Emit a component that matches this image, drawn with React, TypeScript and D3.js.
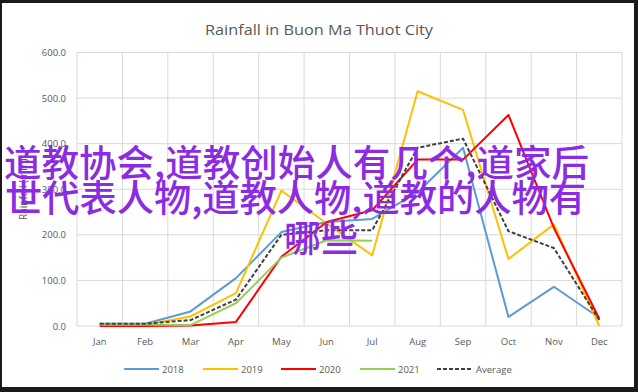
import React, { useLayoutEffect } from "react";
import * as d3 from "d3";

const months = ["Jan", "Feb", "Mar", "Apr", "May", "Jun", "Jul", "Aug", "Sep", "Oct", "Nov", "Dec"];
const rain2018 = [5, 5, 32, 105, 206, 228, 235, 293, 391, 20, 86, 18];
const rain2019 = [3, 3, 21, 72, 297, 225, 155, 515, 474, 147, 223, 0];
const rain2020 = [0, 0, 1, 9, 152, 228, 254, 365, 365, 463, 215, 16];
const rain2021 = [3, 3, 2, 50, 150, 188, 187];
const rainAvg = [5, 5, 13, 58, 200, 210, 210, 391, 411, 208, 171, 13];
const yTicks = [0, 100, 200, 300, 400, 500, 600];

const seriesNames = ["2018", "2019", "2020", "2021", "Average"];
const overlayLines = ["道教协会,道教创始人有几个,道家后", "世代表人物,道教人物,道教的人物有", "哪些"];

const W = 638;
const H = 392;

export default function App() {
  useLayoutEffect(() => {
    document.body.style.margin = "0";
  }, []);

  const x = d3.scaleBand<string>().domain(months).range([77, 622]).padding(0);
  const y = d3.scaleLinear().domain([0, 600]).range([326, 52.5]);
  const cx = (m: string) => (x(m) as number) + x.bandwidth() / 2;

  const line = d3
    .line<number>()
    .x((_, i) => cx(months[i]))
    .y((d) => y(d));

  const series = [
    { name: seriesNames[0], data: rain2018, color: "#5B9BD5", dash: undefined },
    { name: seriesNames[1], data: rain2019, color: "#FFC000", dash: undefined },
    { name: seriesNames[2], data: rain2020, color: "#FF0000", dash: undefined },
    { name: seriesNames[3], data: rain2021, color: "#92D050", dash: undefined },
    { name: seriesNames[4], data: rainAvg, color: "#404040", dash: "4,2" },
  ];

  const legendX = [124, 203, 281, 360, 437];
  const legendLen = [35, 35, 35, 35, 36];
  const font = "'Open Sans', 'Liberation Sans', sans-serif";

  return (
    <div style={{ position: "absolute", left: 0, top: 0 }}>
      <svg width={W} height={H} style={{ display: "block" }}>
        <rect x={0} y={0} width={W} height={H} fill="#1a1a1a" />
        <rect x={2} y={3} width={632} height={384} fill="#ffffff" />
        <text x={319} y={35} textAnchor="middle" fontFamily={font} fontSize={14.5} fill="#595959" textLength={228} lengthAdjust="spacingAndGlyphs">
          Rainfall in Buon Ma Thuot City
        </text>
        {/* grid */}
        {yTicks.map((t) => (
          <line key={"h" + t} x1={77} x2={622} y1={y(t)} y2={y(t)} stroke="#d9d9d9" strokeWidth={1} />
        ))}
        {months.map((m) => (
          <line key={"v" + m} x1={x(m) as number} x2={x(m) as number} y1={y(600)} y2={y(0)} stroke="#d9d9d9" strokeWidth={1} />
        ))}
        <line x1={622} x2={622} y1={y(600)} y2={y(0)} stroke="#d9d9d9" strokeWidth={1} />
        {/* y labels */}
        {yTicks.map((t) => (
          <text key={"yl" + t} x={66} y={y(t) + 3.5} textAnchor="end" fontFamily={font} fontSize={9.5} fill="#595959">
            {t.toFixed(1)}
          </text>
        ))}
        <text transform={`translate(27,${(y(0) + y(600)) / 2}) rotate(-90)`} textAnchor="middle" fontFamily={font} fontSize={10} fill="#595959">
          Rainfall (mm)
        </text>
        {/* x labels */}
        {months.map((m) => (
          <text key={"xl" + m} x={cx(m)} y={345} textAnchor="middle" fontFamily={font} fontSize={9.5} fill="#595959">
            {m}
          </text>
        ))}
        {/* series */}
        {series.map((s) => (
          <path key={s.name} d={line(s.data) || ""} fill="none" stroke={s.color} strokeWidth={2} strokeDasharray={s.dash} strokeLinejoin="round" />
        ))}
        {/* legend */}
        {series.map((s, i) => (
          <g key={"lg" + s.name}>
            <line x1={legendX[i]} x2={legendX[i] + legendLen[i]} y1={369} y2={369} stroke={s.color} strokeWidth={2.2} strokeDasharray={s.dash} />
            <text x={legendX[i] + legendLen[i] + 3} y={372.5} fontFamily={font} fontSize={9.5} fill="#595959">
              {s.name}
            </text>
          </g>
        ))}
        {/* overlay */}
        <g fontFamily="'Noto Sans CJK SC', sans-serif" fontSize={37} fontWeight={500} fill="#8B2BE2">
          <text x={4} y={177} textLength={585} lengthAdjust="spacingAndGlyphs">{overlayLines[0]}</text>
          <text x={5} y={212} textLength={581} lengthAdjust="spacingAndGlyphs">{overlayLines[1]}</text>
          <text x={284} y={252}>{overlayLines[2]}</text>
        </g>
      </svg>
    </div>
  );
}
